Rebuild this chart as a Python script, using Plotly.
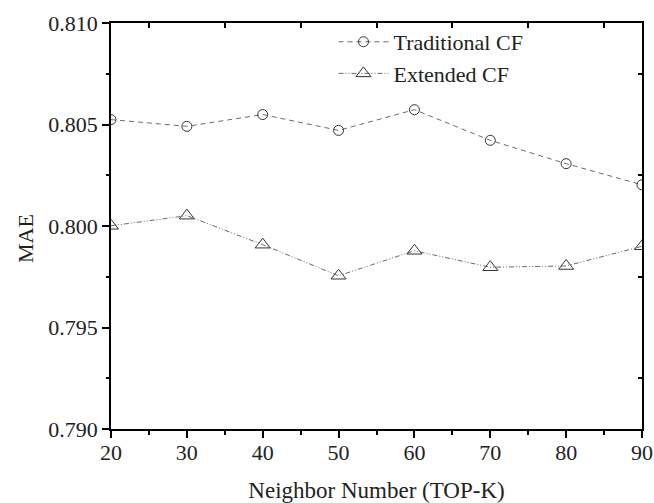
import plotly.graph_objects as go

k_values = [20, 30, 40, 50, 60, 70, 80, 90]
traditional_cf = [0.80524, 0.80491, 0.80549, 0.80471, 0.80573, 0.80422, 0.80307, 0.80203]
extended_cf = [0.80001, 0.80051, 0.79908, 0.79755, 0.79878, 0.79797, 0.79803, 0.79900]

x_ticks = [20, 30, 40, 50, 60, 70, 80, 90]
x_minor = [25, 35, 45, 55, 65, 75, 85]
y_ticks = [0.790, 0.795, 0.800, 0.805, 0.810]
y_ticktext = ["0.790", "0.795", "0.800", "0.805", "0.810"]
y_minor = [0.7925, 0.7975, 0.8025, 0.8075]

FONT = "'Liberation Serif', 'Times New Roman', 'DejaVu Serif', serif"
LINE_COL = "#6a6a6a"
MARK_COL = "#333333"

W, H = 654, 503
ML, MR, MT, MB = 111, 12, 23, 74

fig = go.Figure()
fig.add_trace(go.Scatter(
    x=k_values, y=traditional_cf, name="Traditional CF", mode="lines+markers",
    line=dict(color=LINE_COL, width=1, dash="5px,4px"),
    marker=dict(symbol="circle-open", size=10, color=MARK_COL, line=dict(width=1, color=MARK_COL)),
))
fig.add_trace(go.Scatter(
    x=k_values, y=extended_cf, name="Extended CF", mode="lines+markers",
    line=dict(color=LINE_COL, width=1, dash="5px,2px,1px,2px,1px,2px"),
    marker=dict(symbol="triangle-up-open", size=13, color=MARK_COL, line=dict(width=1, color=MARK_COL)),
))
fig.add_trace(go.Scatter(x=[None], y=[None], xaxis="x2", yaxis="y2", showlegend=False, hoverinfo="skip"))

axis_common = dict(showgrid=False, zeroline=False, showline=True, linecolor="black", linewidth=1.5,
                   tickcolor="black", tickwidth=1.5, automargin=False)

plot_w = W - ML - MR
plot_h = H - MT - MB

fig.update_layout(
    width=W, height=H,
    margin=dict(l=ML, r=MR, t=MT, b=MB),
    paper_bgcolor="white", plot_bgcolor="white",
    font=dict(family=FONT, size=22, color="#222222"),
    showlegend=True,
    legend=dict(x=0.419, y=1.005, xanchor="left", yanchor="top", bgcolor="rgba(0,0,0,0)",
                font=dict(family=FONT, size=22, color="#222222"), itemwidth=50, tracegroupgap=0),
    xaxis=dict(range=[20, 90], tickvals=x_ticks, ticks="outside", ticklen=7,
               tickfont=dict(family=FONT, size=22), ticklabelstandoff=-4,
               minor=dict(tickvals=x_minor, ticks="outside", ticklen=4, tickcolor="black", tickwidth=1.5),
               title=dict(text="Neighbor Number (TOP-K)", font=dict(family=FONT, size=23), standoff=18),
               **axis_common),
    yaxis=dict(range=[0.790, 0.810], tickvals=y_ticks, ticktext=y_ticktext, ticks="outside", ticklen=7,
               tickfont=dict(family=FONT, size=22),
               minor=dict(tickvals=y_minor, ticks="outside", ticklen=3, tickcolor="black", tickwidth=1.5),
               **axis_common),
    xaxis2=dict(range=[20, 90], overlaying="x", side="top", tickvals=x_minor, ticks="inside", ticklen=5,
                showticklabels=False, **axis_common),
    yaxis2=dict(range=[0.790, 0.810], overlaying="y", side="right", tickvals=y_minor, ticks="inside", ticklen=4,
                showticklabels=False, **axis_common),
    annotations=[dict(text="MAE", xref="paper", yref="paper",
                      x=(25 - ML) / plot_w, y=(H - MB - 239) / plot_h,
                      showarrow=False, textangle=-90, xanchor="center", yanchor="middle",
                      font=dict(family=FONT, size=22, color="#222222"))],
)

fig.write_html("out.html", config={"displayModeBar": False},
               post_script="document.body.style.margin='0';document.body.style.overflow='hidden';")
